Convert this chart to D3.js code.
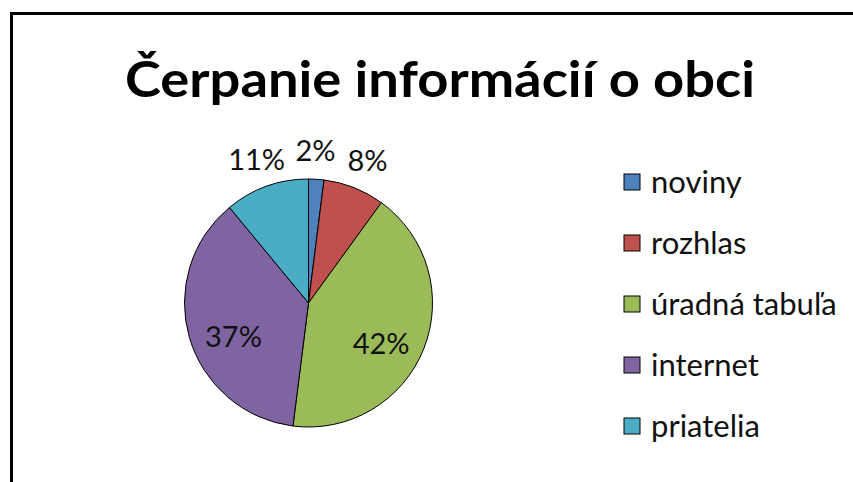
<!DOCTYPE html>
<html>
<head>
<meta charset="utf-8">
<script src="https://cdn.jsdelivr.net/npm/d3@7"></script>
<style>
  body { margin: 0; background: #fff; }
  text { font-family: Lato, "Open Sans", sans-serif; }
</style>
</head>
<body>
<svg id="chart" width="853" height="482"></svg>
<script>
// data
const categories = ["noviny", "rozhlas", "úradná tabuľa", "internet", "priatelia"];
const shares = [2, 8, 42, 37, 11];
const sliceColors = ["#4F81BD", "#C0504D", "#9BBB59", "#8064A2", "#4BACC6"];
const title = "Čerpanie informácií o obci";

const svg = d3.select("#chart");
const width = 853, height = 482;

// white page + frame (cut off at right and bottom like the source)
svg.append("rect").attr("width", width).attr("height", height).attr("fill", "#fff");
svg.append("rect")
  .attr("x", 11.5).attr("y", 13.5)
  .attr("width", 1000).attr("height", 1000)
  .attr("fill", "none").attr("stroke", "#000").attr("stroke-width", 3);

// title
svg.append("text")
  .attr("x", 440).attr("y", 97)
  .attr("text-anchor", "middle")
  .attr("font-size", 50).attr("font-weight", 700)
  .attr("textLength", 630).attr("lengthAdjust", "spacingAndGlyphs")
  .text(title);

// pie
const cx = 308.5, cy = 303, radius = 124;
const data = categories.map((c, i) => ({name: c, value: shares[i], color: sliceColors[i]}));
const pie = d3.pie().value(d => d.value).sort(null);
const arcs = pie(data);
const arc = d3.arc().innerRadius(0).outerRadius(radius);
const g = svg.append("g").attr("transform", `translate(${cx},${cy})`);

g.selectAll("path")
  .data(arcs)
  .join("path")
  .attr("d", arc)
  .attr("fill", d => d.data.color)
  .attr("stroke", "#000")
  .attr("stroke-width", 1);

// label positions: big slices inside, small ones outside the rim
const inside = d3.arc().innerRadius(radius * 0.63).outerRadius(radius * 0.63);
const outside = d3.arc().innerRadius(153).outerRadius(153);
arcs.forEach(d => {
  const isIn = d.data.value > 15;
  const [x, y] = (isIn ? inside : outside).centroid(d);
  d.lx = x;
  d.ly = isIn ? y + 12 : y;
  d.out = !isIn;
});

// push outside labels apart so they don't touch
const outer = arcs.filter(d => d.out).sort((a, b) => a.lx - b.lx);
const minGap = 52;
for (let k = 0; k < 20; k++) {
  for (let i = 1; i < outer.length; i++) {
    const gap = outer[i].lx - outer[i - 1].lx;
    if (gap < minGap) {
      const adjust = (minGap - gap) / 2;
      outer[i].lx += adjust;
      outer[i - 1].lx -= adjust;
    }
  }
}

g.selectAll("text.pct")
  .data(arcs)
  .join("text")
  .attr("class", "pct")
  .attr("x", d => d.lx)
  .attr("y", d => d.ly)
  .attr("text-anchor", "middle")
  .attr("dy", "0.36em")
  .attr("font-size", 29)
  .attr("fill", "#111")
  .text(d => d3.format(".0%")(d.data.value / 100));

// legend
const legendY = d3.scalePoint().domain(categories).range([182, 426]);
const legend = svg.append("g").selectAll("g")
  .data(data)
  .join("g")
  .attr("transform", d => `translate(624,${legendY(d.name)})`);

legend.append("rect")
  .attr("x", 0).attr("y", -8)
  .attr("width", 16).attr("height", 16)
  .attr("fill", d => d.color)
  .attr("stroke", "#000").attr("stroke-width", 1);

legend.append("text")
  .attr("x", 27).attr("dy", "0.36em")
  .attr("font-size", 31)
  .attr("fill", "#111")
  .text(d => d.name);
</script>
</body>
</html>
